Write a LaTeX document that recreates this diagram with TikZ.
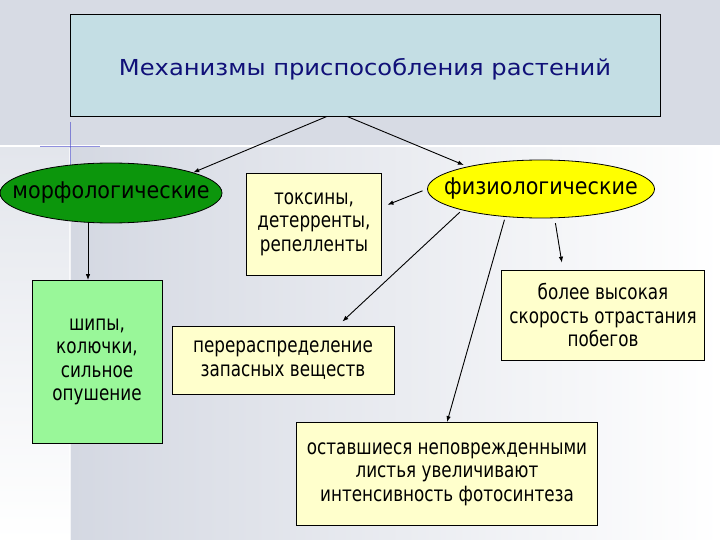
\documentclass[tikz,border=0pt]{standalone}
\usepackage{fontspec}
\setmainfont[FakeStretch=0.8]{DejaVu Sans}
\newfontfamily\titlefont[FakeStretch=1.1]{DejaVu Sans}
\newfontfamily\ovalfont[FakeStretch=0.9]{DejaVu Sans}
\usetikzlibrary{shapes.geometric, arrows.meta}

\definecolor{titlefill}{RGB}{196,222,228}
\definecolor{titletext}{RGB}{16,16,120}
\definecolor{morfgreen}{RGB}{12,150,12}
\definecolor{physyellow}{RGB}{255,255,0}
\definecolor{paleyellow}{RGB}{255,255,204}
\definecolor{palegreen}{RGB}{153,247,153}
\definecolor{bandgray}{RGB}{215,219,228}
\definecolor{slidegray}{RGB}{212,216,226}
\definecolor{crossblue}{RGB}{70,70,200}

\tikzset{
  box/.style={draw=black, line width=0.8pt, fill=paleyellow, align=center,
    inner sep=0pt, font=\fontsize{21}{23.5}\selectfont},
  oval/.style={ellipse, draw=black, line width=0.8pt, inner xsep=-30pt, inner ysep=0pt,
    font=\ovalfont\fontsize{23}{26}\selectfont},
  arr/.style={-{Latex[length=6pt,width=4.5pt]}, line width=0.9pt, black}
}

\begin{document}
\begin{tikzpicture}[x=1pt, y=-1pt]

        % Slide background
        \useasboundingbox (0,0) rectangle (720,540);
        \fill[bandgray] (0,0) rectangle (720,145);
        \shade[left color=slidegray, right color=white] (70,147) rectangle (720,540);
        \shade[top color=bandgray!70, bottom color=white] (0,147) rectangle (70,540);
        \draw[white, line width=2pt] (0,146) -- (720,146);
        \draw[white, opacity=0.7, line width=1.5pt] (70,148) -- (70,540);
        \draw[crossblue, opacity=0.6, line width=1pt] (70,122) -- (70,172);
        \draw[crossblue, opacity=0.6, line width=1pt] (40,147) -- (100,147);

        % Title box
        \node[rectangle, draw=black, line width=0.8pt, fill=titlefill,
              minimum width=590pt, minimum height=102pt, text=titletext,
              font=\titlefont\fontsize{22}{26}\selectfont] (mech) at (365,65)
              {\raisebox{-4pt}[\height][\depth]{Механизмы приспособления растений}};

        % Two kinds of mechanisms
        \node[oval, fill=morfgreen, minimum width=222pt, minimum height=60pt] (morf) at (111,193) {морфологические};
        \node[oval, fill=physyellow, minimum width=227pt, minimum height=58pt] (phys) at (541,189) {физиологические};

        % Boxes with examples
        \node[box, minimum width=135pt, minimum height=102pt] (tox) at (314,224) {токсины,\\детерренты,\\репелленты};
        \node[box, fill=palegreen, minimum width=130pt, minimum height=163pt] (ship) at (97,362) {шипы,\\колючки,\\сильное\\опушение};
        \node[box, minimum width=222pt, minimum height=68pt] (redis) at (283,360) {перераспределение\\запасных веществ};
        \node[box, minimum width=203pt, minimum height=90pt] (grow) at (603,315) {более высокая\\скорость отрастания\\побегов};
        \node[box, minimum width=301pt, minimum height=103pt] (leaf) at (447,474) {оставшиеся неповрежденными\\листья увеличивают\\интенсивность фотосинтеза};

        % Arrows from the title
        \draw[arr] ([xshift=-38pt]mech.south) -- (morf.14);
        \draw[arr, shorten >=4pt] ([xshift=-18pt]mech.south) -- (phys.163);

        % Arrow to the morphological example
        \draw[arr] ([xshift=-23pt]morf.south) -- ([xshift=-9pt]ship.north);

        % Arrows from the physiological oval
        \draw[arr, shorten <=5pt, shorten >=6pt] (phys.west) -- ([yshift=17pt]tox.east);
        \draw[arr, shorten <=3pt, shorten >=6pt] (phys.195) -- ([xshift=55pt]redis.north);
        \draw[arr, shorten <=3pt] (phys.218) -- (leaf.north);
        \draw[arr, shorten <=5pt, shorten >=7pt] (phys.-65) -- ([xshift=-40pt]grow.north);

\end{tikzpicture}
\end{document}
